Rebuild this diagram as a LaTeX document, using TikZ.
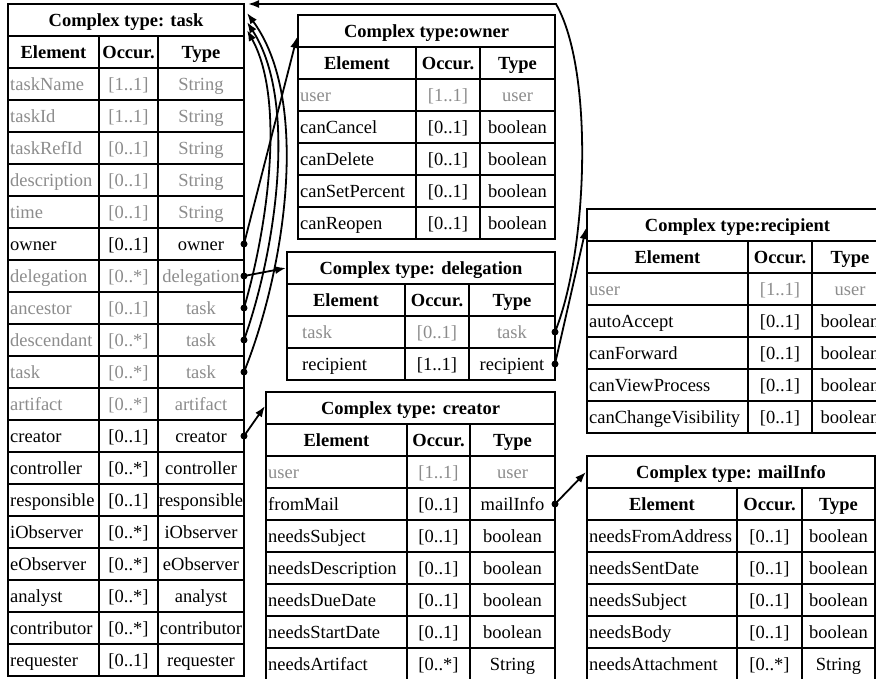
\documentclass[tikz,border=0pt]{standalone}
\usepackage{fontspec}
\setmainfont{Liberation Serif}
\usetikzlibrary{arrows.meta}
\definecolor{gtxt}{RGB}{140,140,140}
\tikzset{
 cellline/.style={draw=black, line width=1.3pt},
 txt/.style={inner sep=0pt, anchor=base, font=\fontsize{18.5}{20}\selectfont},
 hdr/.style={inner sep=0pt, anchor=base, font=\fontsize{18.5}{20}\selectfont\bfseries},
 conn/.style={line width=1.8pt, -{Latex[length=11pt,width=8pt]}},
 dotc/.style={circle, fill=black, inner sep=0pt, minimum size=7pt},
}
% #1 name #2 x0 #3 x1 #4 x2 #5 x3 #6 ytop #7 title #8 rows #9 separator width
\newcommand\cxtable[9]{%
  \pgfmathsetmacro\tya{#6+32}%
  \pgfmathsetmacro\tyb{#6+64}%
  \draw[cellline] (#2,#6) rectangle (#5,\tya);
  \draw[cellline] (#2,\tya) rectangle (#5,\tyb);
  \draw[cellline] (#3,\tya) -- (#3,\tyb) (#4,\tya) -- (#4,\tyb);
  \foreach \e/\o/\t/\c [count=\i] in {#8} {
    \pgfmathsetmacro\ry{\tyb+32*(\i-1)}
    \draw[cellline] (#2,\ry) rectangle (#5,\ry+32);
    \draw[cellline] (#3,\ry) -- (#3,\ry+32) (#4,\ry) -- (#4,\ry+32);
    \node[txt, anchor=base west, text=\c] (#1-e\i) at (#2+2,\ry+22) {\e};
    \node[txt, text=\c] (#1-o\i) at ({(#3+#4)/2},\ry+22) {\o};
    \node[txt, text=\c] (#1-t\i) at ({(#4+#5)/2},\ry+22) {\t};
    \coordinate (#1-r\i) at (#5,\ry+16);
  }
  \draw[line width=#9] (#2,\tya) -- (#5,\tya) (#2,\tyb) -- (#5,\tyb);
  \node[hdr] (#1-title) at ({(#2+#5)/2},#6+22) {#7};
  \node[hdr] (#1-h1) at ({(#2+#3)/2},\tya+22) {Element};
  \node[hdr] (#1-h2) at ({(#3+#4)/2},\tya+22) {Occur.};
  \node[hdr] (#1-h3) at ({(#4+#5)/2},\tya+22) {Type};
}
\begin{document}
\begin{tikzpicture}[x=1pt,y=-1pt]
\useasboundingbox (0,0) rectangle (876,678);
\clip (0,0) rectangle (876,678);

\cxtable{task}{8}{99}{158}{244}{4}{Complex type: task}{
 taskName/{[1..1]}/String/gtxt, taskId/{[1..1]}/String/gtxt, taskRefId/{[0..1]}/String/gtxt,
 description/{[0..1]}/String/gtxt, time/{[0..1]}/String/gtxt, owner/{[0..1]}/owner/black,
 delegation/{[0..*]}/delegation/gtxt, ancestor/{[0..1]}/task/gtxt, descendant/{[0..*]}/task/gtxt,
 task/{[0..*]}/task/gtxt, artifact/{[0..*]}/artifact/gtxt, creator/{[0..1]}/creator/black,
 controller/{[0..*]}/controller/black, responsible/{[0..1]}/responsible/black,
 iObserver/{[0..*]}/iObserver/black, eObserver/{[0..*]}/eObserver/black,
 analyst/{[0..*]}/analyst/black, contributor/{[0..*]}/contributor/black,
 requester/{[0..1]}/requester/black}{1.3pt}

\cxtable{owner}{298}{416}{480}{555}{15}{Complex type:owner}{
 user/{[1..1]}/user/gtxt, canCancel/{[0..1]}/boolean/black, canDelete/{[0..1]}/boolean/black,
 canSetPercent/{[0..1]}/boolean/black, canReopen/{[0..1]}/boolean/black}{2.4pt}

\cxtable{deleg}{287}{405}{469}{555}{252}{Complex type: delegation}{
 \hspace*{13pt}task/{[0..1]}/task/gtxt, \hspace*{13pt}recipient/{[1..1]}/recipient/black}{2.4pt}

\cxtable{creator}{266}{407}{470}{555}{392}{Complex type: creator}{
 user/{[1..1]}/user/gtxt, fromMail/{[0..1]}/mailInfo/black, needsSubject/{[0..1]}/boolean/black,
 needsDescription/{[0..1]}/boolean/black, needsDueDate/{[0..1]}/boolean/black,
 needsStartDate/{[0..1]}/boolean/black, needsArtifact/{[0..*]}/String/black}{2.4pt}

\cxtable{recip}{587}{748}{812}{888}{209}{Complex type:recipient}{
 user/{[1..1]}/user/gtxt, autoAccept/{[0..1]}/boolean/black, canForward/{[0..1]}/boolean/black,
 canViewProcess/{[0..1]}/boolean/black, canChangeVisibility/{[0..1]}/boolean/black}{2.4pt}

\cxtable{mail}{587}{737}{802}{875}{456}{Complex type: mailInfo}{
 needsFromAddress/{[0..1]}/boolean/black, needsSentDate/{[0..1]}/boolean/black,
 needsSubject/{[0..1]}/boolean/black, needsBody/{[0..1]}/boolean/black,
 needsAttachment/{[0..*]}/String/black}{2.4pt}

% arrow targets
\coordinate (task-tip0) at (248,4);
\coordinate (task-tip1) at (247,13);
\coordinate (task-tip2) at (247,22);
\coordinate (task-tip3) at (247,30);
\coordinate (owner-tip) at (297,37);
\coordinate (deleg-tip) at (286,268);
\coordinate (creator-tip) at (265,406);
\coordinate (recip-tip) at (586,228);
\coordinate (mail-tip) at (586,472);
\coordinate (corner) at (556,4);

% connectors
\draw[conn] (task-r6) -- (owner-tip);
\draw[conn] (task-r7) -- (deleg-tip);
\draw[conn] (task-r8) .. controls (267,230) and (286,100) .. (task-tip3);
\draw[conn] (task-r9) .. controls (276,250) and (298,100) .. (task-tip2);
\draw[conn] (task-r10) .. controls (285,270) and (311,100) .. (task-tip1);
\draw[conn] (task-r12) -- (creator-tip);
\draw[conn] (deleg-r1) .. controls (588,250) and (594,70) .. (corner) -- (task-tip0);
\draw[conn] (deleg-r2) -- (recip-tip);
\draw[conn] (creator-r2) -- (mail-tip);

\foreach \p in {task-r6,task-r7,task-r8,task-r9,task-r10,task-r12,deleg-r1,deleg-r2,creator-r2}
  \node[dotc] at (\p) {};
\end{tikzpicture}
\end{document}
